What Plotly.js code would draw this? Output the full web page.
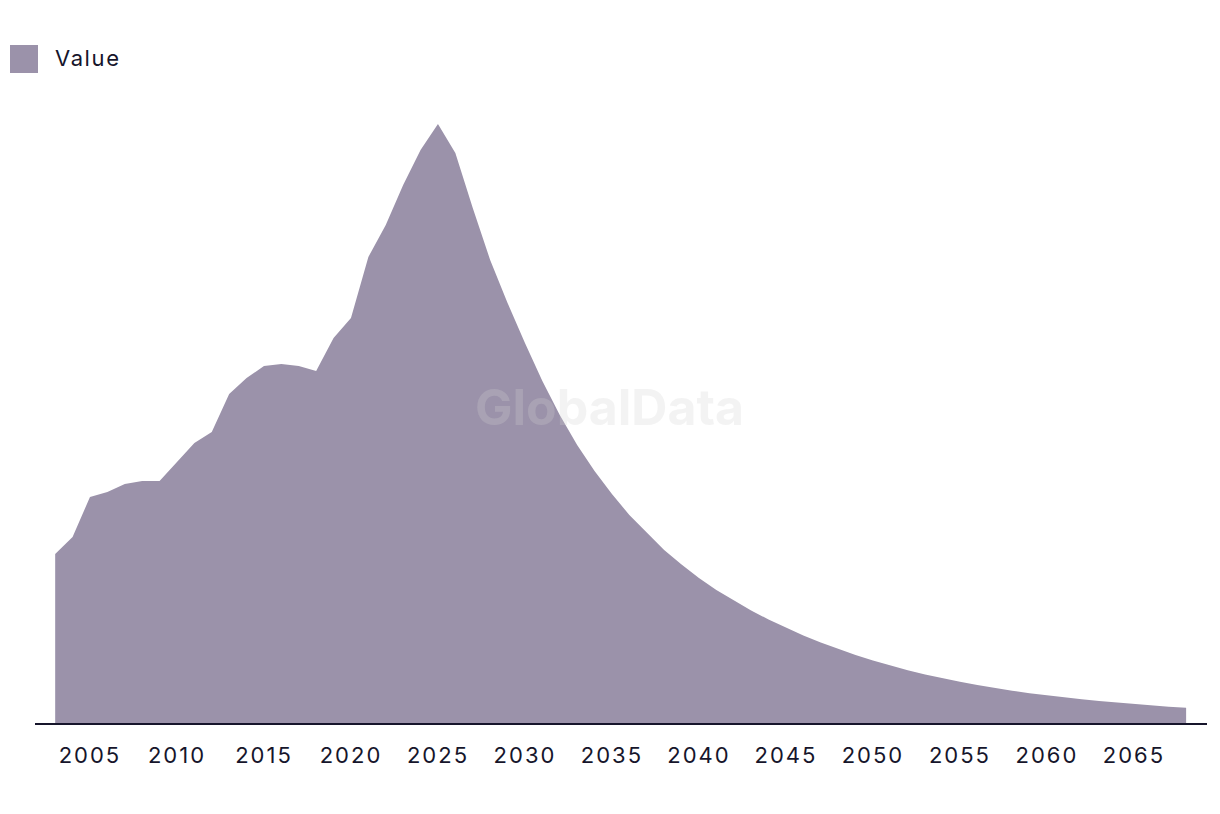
<!DOCTYPE html>
<html>
<head>
<meta charset="utf-8">
<script src="https://cdn.plot.ly/plotly-3.0.1.min.js"></script>
<style>
  html, body { margin: 0; padding: 0; background: #ffffff; }
  #chart { width: 1220px; height: 814px; }
  #chart .xtick text { letter-spacing: 2px; }
</style>
</head>
<body>
<div id="chart"></div>
<script>
// Years 2003..2068
const years = [
  2003, 2004, 2005, 2006, 2007, 2008, 2009, 2010, 2011, 2012,
  2013, 2014, 2015, 2016, 2017, 2018, 2019, 2020, 2021, 2022,
  2023, 2024, 2025, 2026, 2027, 2028, 2029, 2030, 2031, 2032,
  2033, 2034, 2035, 2036, 2037, 2038, 2039, 2040, 2041, 2042,
  2043, 2044, 2045, 2046, 2047, 2048, 2049, 2050, 2051, 2052,
  2053, 2054, 2055, 2056, 2057, 2058, 2059, 2060, 2061, 2062,
  2063, 2064, 2065, 2066, 2067, 2068
];
const values = [
  169, 186, 226, 231, 239, 242, 242, 261, 280, 291,
  329, 345, 357, 359, 357, 352, 385, 405, 466, 498,
  538, 573, 599, 570, 515, 463, 420, 380, 342, 308,
  278, 252, 229, 208, 190, 173, 158.5, 145, 133, 122.5,
  112.6, 103.5, 95.2, 87.5, 80.4, 73.9, 67.9, 62.4, 57.4, 52.8,
  48.6, 44.7, 41.2, 38.0, 35.0, 32.3, 29.8, 27.6, 25.6, 23.7,
  22.0, 20.4, 19.0, 17.6, 16.3, 15.2
];
const tickYears = [2005, 2010, 2015, 2020, 2025, 2030, 2035, 2040, 2045, 2050, 2055, 2060, 2065];
const seriesName = "Value";
const fillColor = "#9b92aa";
const textColor = "#16152b";
const fontFamily = "Inter, 'Liberation Sans', sans-serif";

const trace = {
  x: years,
  y: values,
  type: "scatter",
  mode: "lines",
  fill: "tozeroy",
  fillcolor: fillColor,
  line: { width: 0, color: fillColor },
  name: seriesName,
  showlegend: false,
  hoverinfo: "x+y"
};

const layout = {
  width: 1220,
  height: 814,
  margin: { l: 35, r: 13, t: 83, b: 91 },
  paper_bgcolor: "#ffffff",
  plot_bgcolor: "#ffffff",
  showlegend: false,
  font: { family: fontFamily, color: textColor, size: 22 },
  xaxis: {
    range: [2001.84, 2069.2],
    tickmode: "array",
    tickvals: tickYears,
    ticktext: tickYears.map(String),
    showgrid: false,
    zeroline: false,
    showline: true,
    linecolor: textColor,
    linewidth: 2,
    ticks: "outside",
    ticklen: 12,
    tickcolor: "rgba(0,0,0,0)",
    tickfont: { size: 22, color: textColor, family: fontFamily },
    fixedrange: true
  },
  yaxis: {
    range: [0, 640],
    visible: false,
    showgrid: false,
    zeroline: false,
    fixedrange: true
  },
  shapes: [
    {
      type: "rect", xref: "paper", yref: "paper",
      x0: -0.02133, x1: 0.00256, y0: 1.0156, y1: 1.0594,
      fillcolor: fillColor, line: { width: 0 }
    }
  ],
  annotations: [
    {
      text: '<span style="letter-spacing:1.6px">' + seriesName + '</span>',
      xref: "paper", yref: "paper",
      x: 0.0154, y: 1.039, xanchor: "left", yanchor: "middle",
      showarrow: false,
      font: { size: 22, color: textColor, family: fontFamily }
    },
    {
      text: "<b>GlobalData</b>", xref: "paper", yref: "paper",
      x: 0.4906, y: 0.4937, xanchor: "center", yanchor: "middle",
      showarrow: false,
      font: { size: 50, color: "rgba(208,208,208,0.26)", family: fontFamily }
    }
  ]
};

Plotly.newPlot("chart", [trace], layout, { displayModeBar: false, staticPlot: true });
</script>
</body>
</html>
